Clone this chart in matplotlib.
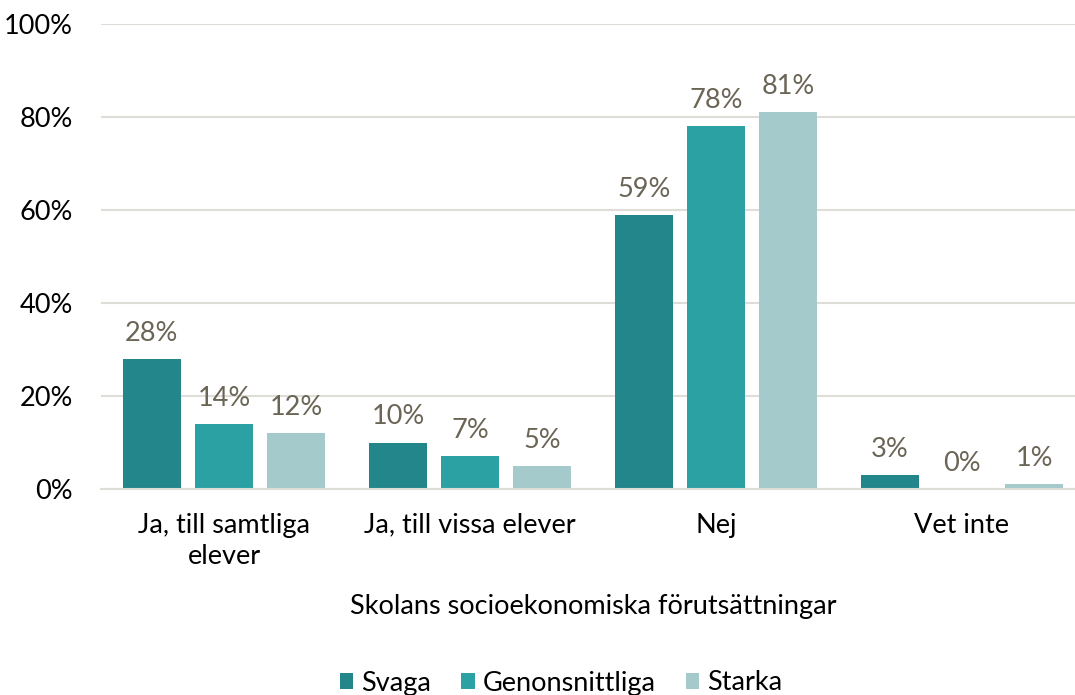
import matplotlib.pyplot as plt
import numpy as np

plt.rcParams['font.family'] = ['Lato', 'DejaVu Sans']

categories = ['Ja, till samtliga\nelever', 'Ja, till vissa elever', 'Nej', 'Vet inte']
series = ['Svaga', 'Genonsnittliga', 'Starka']
svaga = [28, 10, 59, 3]
genomsnitt = [14, 7, 78, 0]
starka = [12, 5, 81, 1]
colors = ['#23868A', '#2CA1A3', '#A5CACB']
label_color = '#6B6556'
grid_color = '#DEDDD8'
fs = 19.5

fig = plt.figure(figsize=(10.75, 6.95), dpi=100)
ax = fig.add_axes([101 / 1075, 206 / 695, 984 / 1075, 465 / 695])

x = np.arange(len(categories))
width = 0.236
step = 0.293
for i, (vals, name) in enumerate(zip([svaga, genomsnitt, starka], series)):
    pos = x + (i - 1) * step
    ax.bar(pos, vals, width, color=colors[i], label=name, zorder=3)
    for p, v in zip(pos, vals):
        ax.annotate(f'{v}%', (p, v), xytext=(0, 13), textcoords='offset points',
                    ha='center', va='baseline', fontsize=fs, color=label_color)

ax.set_xlim(-0.5, len(categories) - 0.5)
ax.set_ylim(0, 100)
ax.set_yticks(range(0, 101, 20))
ax.set_yticklabels([f'{t}%' for t in range(0, 101, 20)], fontsize=fs)
ax.set_xticks(x)
ax.set_xticklabels(categories, fontsize=fs, linespacing=1.3)
ax.tick_params(length=0)
ax.tick_params(axis='x', pad=17)
ax.tick_params(axis='y', pad=20)
ax.yaxis.grid(True, color=grid_color, linewidth=1.5, zorder=0)
for s in ['top', 'right', 'left']:
    ax.spines[s].set_visible(False)
ax.spines['bottom'].set_color(grid_color)
ax.spines['bottom'].set_linewidth(1.5)
ax.spines['bottom'].set_zorder(4)

ax.set_xlabel('Skolans socioekonomiska förutsättningar', fontsize=fs, labelpad=18)

handles, labels = ax.get_legend_handles_labels()
fig.legend(handles, labels, loc='center', bbox_to_anchor=(561 / 1075, 1 - 683 / 695),
           ncol=3, frameon=False, fontsize=fs, handlelength=0.5, handleheight=0.5,
           handletextpad=0.3, columnspacing=1.1, borderpad=0)

fig.savefig('out.png', dpi=100)
